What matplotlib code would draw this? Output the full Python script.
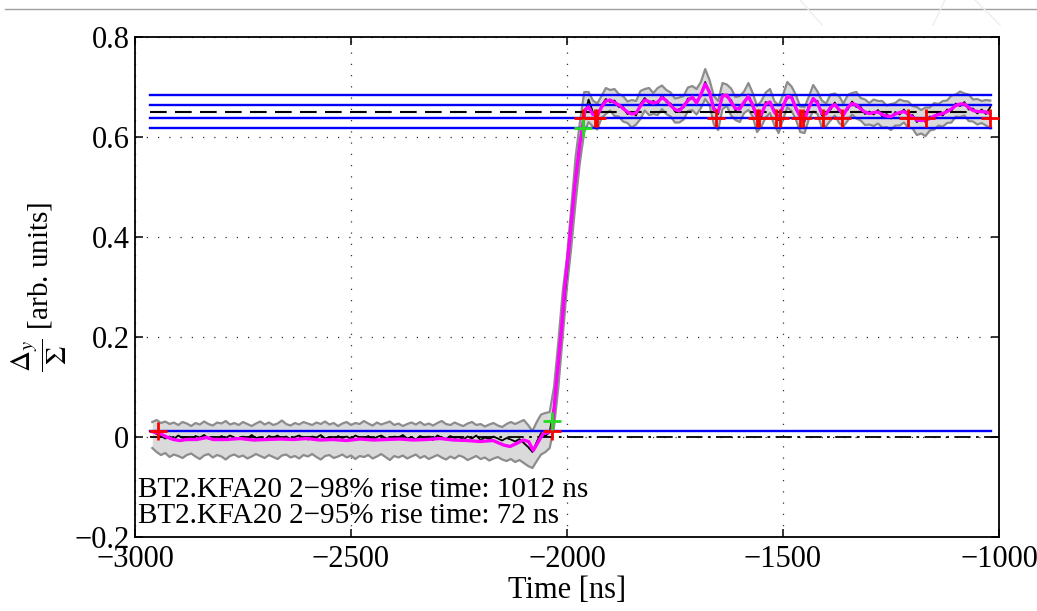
import numpy as np
import matplotlib
matplotlib.use("Agg")
import matplotlib.pyplot as plt
from matplotlib.lines import Line2D

plt.rcParams['font.family'] = ['Liberation Serif', 'DejaVu Serif']
plt.rcParams['mathtext.fontset'] = 'stix'

# ---- data ----
# smoothed signal (magenta), irregular sampling
mag_t = [-2961, -2942, -2927, -2911, -2896, -2880, -2857, -2834, -2819, -2788,
         -2757, -2726, -2695, -2664, -2633, -2603, -2572, -2541, -2510, -2479,
         -2448, -2417, -2387, -2356, -2325, -2294, -2263, -2232, -2201, -2171,
         -2147, -2132, -2117, -2101, -2089, -2078, -2066, -2055, -2043, -2035,
         -2030, -2024, -2012, -2005, -1993, -1982, -1970, -1964, -1958,
         -1950, -1940, -1930, -1920, -1910, -1900, -1890, -1880, -1870, -1860,
         -1850, -1840, -1830, -1820, -1810, -1800, -1790, -1780, -1770, -1760,
         -1750, -1740, -1730, -1720, -1710, -1700, -1690, -1680, -1670, -1660,
         -1650, -1640, -1630, -1620, -1610, -1600, -1590, -1580, -1570, -1560,
         -1550, -1540, -1530, -1520, -1510, -1500, -1490, -1480, -1470, -1460,
         -1450, -1440, -1430, -1420, -1410, -1400, -1390, -1380, -1370, -1360,
         -1350, -1340, -1330, -1320, -1310, -1300, -1290, -1280, -1270, -1260,
         -1250, -1240, -1230, -1220, -1210, -1200, -1190, -1180, -1170, -1160,
         -1150, -1140, -1130, -1120, -1110, -1100, -1090, -1080, -1070, -1060,
         -1050, -1040, -1030, -1020]
mag_v = [0.011, 0.007, 0.000, -0.005, -0.007, -0.005, -0.005, -0.001, -0.005, -0.005,
         -0.003, -0.006, -0.005, -0.004, -0.005, -0.003, -0.006, -0.005, -0.007, -0.004,
         -0.006, -0.005, -0.004, -0.006, -0.005, -0.003, -0.006, -0.007, -0.009, -0.007,
         -0.016, -0.019, -0.013, -0.006, -0.009, -0.027, -0.009, 0.007, 0.009, 0.014,
         0.055, 0.114, 0.221, 0.301, 0.401, 0.501, 0.587, 0.621, 0.655,
         0.660, 0.645, 0.642, 0.660, 0.672, 0.674, 0.669, 0.664, 0.657, 0.650,
         0.646, 0.648, 0.662, 0.674, 0.671, 0.668, 0.670, 0.679, 0.673, 0.663,
         0.655, 0.652, 0.662, 0.673, 0.680, 0.668, 0.685, 0.706, 0.690, 0.655,
         0.650, 0.682, 0.684, 0.670, 0.657, 0.656, 0.670, 0.681, 0.664, 0.640,
         0.645, 0.666, 0.670, 0.650, 0.638, 0.661, 0.681, 0.679, 0.658, 0.640,
         0.635, 0.659, 0.677, 0.668, 0.647, 0.646, 0.659, 0.665, 0.655, 0.644,
         0.659, 0.667, 0.664, 0.656, 0.650, 0.647, 0.649, 0.650, 0.645, 0.642,
         0.641, 0.646, 0.649, 0.651, 0.646, 0.640, 0.634, 0.633, 0.634, 0.637,
         0.642, 0.645, 0.647, 0.651, 0.656, 0.663, 0.666, 0.666, 0.659, 0.653,
         0.651, 0.651, 0.650, 0.647]

# raw signal and spread band, sampled every 10 ns from -2960 to -1020
raw_t = np.arange(-2960, -1019, 10)
raw_v = [0.012, 0.006, 0.002, -0.003, 0.001, -0.004, 0.003, -0.002, 0.000, -0.005,
         0.002, -0.001, 0.004, -0.003, 0.000, -0.006, 0.002, -0.002, 0.003, -0.001,
         -0.004, 0.001, -0.003, 0.004, -0.002, 0.000, -0.005, 0.002, -0.001, 0.003,
         -0.003, 0.001, -0.004, 0.000, 0.003, -0.002, -0.005, 0.001, -0.001, 0.004,
         -0.003, 0.000, -0.006, 0.002, -0.002, 0.001, -0.004, 0.003, -0.001, -0.003,
         0.002, -0.005, 0.000, 0.003, -0.002, -0.004, 0.001, -0.001, 0.004, -0.003,
         0.000, -0.005, 0.002, -0.002, 0.001, -0.006, 0.003, -0.001, -0.004, 0.002,
         -0.002, 0.000, -0.005, 0.001, -0.003, 0.003, -0.006, -0.001, -0.004, 0.001,
         -0.003, -0.007, -0.002, -0.005, -0.009, -0.004, -0.012, -0.020, -0.030, -0.010,
         0.008, 0.002, 0.010,
         0.060, 0.150, 0.240, 0.330, 0.430, 0.520, 0.590, 0.640,
         0.675, 0.650, 0.638, 0.663, 0.676, 0.670, 0.673, 0.660, 0.660, 0.646,
         0.650, 0.643, 0.666, 0.678, 0.668, 0.672, 0.666, 0.684, 0.670, 0.667,
         0.651, 0.656, 0.659, 0.677, 0.677, 0.672, 0.682, 0.710, 0.686, 0.659,
         0.646, 0.686, 0.680, 0.674, 0.653, 0.660, 0.666, 0.685, 0.660, 0.644,
         0.641, 0.670, 0.666, 0.654, 0.634, 0.665, 0.677, 0.683, 0.654, 0.644,
         0.631, 0.663, 0.673, 0.672, 0.643, 0.650, 0.655, 0.669, 0.651, 0.648,
         0.655, 0.671, 0.660, 0.660, 0.646, 0.651, 0.645, 0.654, 0.641, 0.646,
         0.637, 0.650, 0.645, 0.655, 0.642, 0.644, 0.630, 0.637, 0.630, 0.641,
         0.638, 0.649, 0.643, 0.655, 0.652, 0.667, 0.662, 0.670, 0.655, 0.657,
         0.647, 0.655, 0.646, 0.660]
band_hi = [0.030, 0.034, 0.028, 0.031, 0.026, 0.029, 0.024, 0.030, 0.027, 0.022,
           0.028, 0.025, 0.031, 0.026, 0.023, 0.029, 0.027, 0.032, 0.025, 0.028,
           0.024, 0.030, 0.026, 0.022, 0.027, 0.031, 0.025, 0.029, 0.024, 0.027,
           0.033, 0.026, 0.023, 0.028, 0.025, 0.030, 0.027, 0.024, 0.029, 0.026,
           0.031, 0.025, 0.028, 0.022, 0.027, 0.030, 0.024, 0.028, 0.026, 0.032,
           0.027, 0.023, 0.029, 0.025, 0.028, 0.031, 0.024, 0.027, 0.022, 0.026,
           0.029, 0.025, 0.030, 0.024, 0.027, 0.023, 0.028, 0.032, 0.026, 0.024,
           0.029, 0.025, 0.022, 0.027, 0.030, 0.024, 0.026, 0.021, 0.025, 0.028,
           0.023, 0.020, 0.026, 0.030, 0.026, 0.030, 0.034, 0.024, 0.012, 0.030,
           0.045, 0.048, 0.050,
           0.100, 0.190, 0.290, 0.360, 0.460, 0.560, 0.630, 0.690,
           0.690, 0.673, 0.667, 0.682, 0.698, 0.694, 0.696, 0.686, 0.682, 0.671,
           0.674, 0.672, 0.692, 0.696, 0.698, 0.688, 0.698, 0.703, 0.694, 0.689,
           0.677, 0.679, 0.682, 0.699, 0.702, 0.696, 0.710, 0.736, 0.714, 0.682,
           0.672, 0.708, 0.705, 0.697, 0.680, 0.682, 0.691, 0.708, 0.688, 0.662,
           0.672, 0.689, 0.696, 0.672, 0.663, 0.684, 0.710, 0.701, 0.684, 0.661,
           0.660, 0.681, 0.704, 0.691, 0.673, 0.667, 0.685, 0.687, 0.682, 0.667,
           0.684, 0.688, 0.690, 0.678, 0.675, 0.668, 0.675, 0.672, 0.672, 0.663,
           0.666, 0.668, 0.675, 0.672, 0.671, 0.662, 0.660, 0.654, 0.659, 0.659,
           0.668, 0.666, 0.672, 0.673, 0.683, 0.685, 0.691, 0.687, 0.685, 0.675,
           0.676, 0.672, 0.674, 0.673]
band_lo = [-0.022, -0.030, -0.036, -0.032, -0.040, -0.035, -0.038, -0.042, -0.036, -0.033,
           -0.039, -0.044, -0.037, -0.034, -0.041, -0.036, -0.039, -0.045, -0.038, -0.035,
           -0.040, -0.037, -0.043, -0.039, -0.034, -0.038, -0.042, -0.036, -0.040, -0.044,
           -0.037, -0.035, -0.041, -0.038, -0.043, -0.036, -0.039, -0.034, -0.040, -0.045,
           -0.038, -0.036, -0.042, -0.039, -0.035, -0.041, -0.037, -0.044, -0.038, -0.040,
           -0.036, -0.043, -0.039, -0.034, -0.040, -0.046, -0.038, -0.041, -0.037, -0.043,
           -0.039, -0.035, -0.042, -0.038, -0.044, -0.040, -0.036, -0.041, -0.045, -0.039,
           -0.043, -0.037, -0.040, -0.046, -0.042, -0.038, -0.044, -0.041, -0.047, -0.043,
           -0.040, -0.045, -0.048, -0.044, -0.050, -0.046, -0.052, -0.058, -0.062, -0.048,
           -0.035, -0.030, -0.022,
           0.020, 0.100, 0.200, 0.300, 0.380, 0.470, 0.550, 0.610,
           0.630, 0.621, 0.615, 0.638, 0.646, 0.653, 0.642, 0.641, 0.631, 0.628,
           0.619, 0.625, 0.636, 0.653, 0.644, 0.646, 0.644, 0.656, 0.646, 0.641,
           0.629, 0.629, 0.635, 0.652, 0.654, 0.645, 0.658, 0.676, 0.664, 0.625,
           0.614, 0.656, 0.662, 0.643, 0.634, 0.630, 0.648, 0.654, 0.641, 0.610,
           0.621, 0.639, 0.648, 0.624, 0.608, 0.635, 0.659, 0.652, 0.635, 0.610,
           0.608, 0.636, 0.651, 0.646, 0.619, 0.622, 0.633, 0.643, 0.628, 0.621,
           0.633, 0.645, 0.637, 0.633, 0.624, 0.625, 0.622, 0.627, 0.619, 0.620,
           0.614, 0.623, 0.623, 0.629, 0.619, 0.617, 0.604, 0.607, 0.602, 0.613,
           0.615, 0.623, 0.621, 0.628, 0.629, 0.641, 0.640, 0.643, 0.632, 0.631,
           0.625, 0.628, 0.623, 0.617]

# reference levels
flat_level = 0.651
level_frac = [0.95, 0.98, 1.02, 1.05]
low_frac = 0.02
line_start, line_end = -2965, -1018

# crossing markers
red_t = [-2947, -2035, -1962, -1935, -1931, -1654, -1561, -1555, -1515, -1507,
         -1461, -1453, -1407, -1364, -1210, -1168, -1021]
red_v = [0.013, 0.013] + [0.638] * 15
green_t = [-2034, -1963]
green_v = [0.033, 0.619]

lines_txt = ["BT2.KFA20 2\u221298% rise time: 1012 ns",
             "BT2.KFA20 2\u221295% rise time: 72 ns"]

# ---- plot ----
fig = plt.figure(figsize=(10.37, 6.11), dpi=100)
ax = fig.add_axes([0.1302, 0.1211, 0.8331, 0.8183])

ax.fill_between(raw_t, band_lo, band_hi, color='#dadada', lw=0, zorder=1)
ax.plot(raw_t, band_hi, color='#8c8c8c', lw=1.6, zorder=2)
ax.plot(raw_t, band_lo, color='#8c8c8c', lw=1.6, zorder=2)
ax.plot(raw_t, raw_v, color='black', lw=1.3, zorder=3)

for f in level_frac:
    ax.plot([line_start, line_end], [flat_level * f] * 2, color='#0000ff', lw=1.7, zorder=4)
ax.plot([line_start, line_end], [flat_level * low_frac] * 2, color='#0000ff', lw=1.7, zorder=4)
ax.plot([line_start, line_end], [flat_level] * 2, color='black', lw=1.5,
        dashes=(8, 4), zorder=4)
ax.plot([line_start, -1000], [0, 0], color='black', lw=1.3,
        dashes=(9, 3, 1.5, 3), zorder=4)

ax.plot(mag_t, mag_v, color='#ff00ff', lw=2.4, zorder=5,
        solid_joinstyle='round', solid_capstyle='round')

ax.plot(red_t, red_v, ls='none', marker='+', ms=13, mew=2.0, color='red', zorder=6)
ax.plot(green_t, green_v, ls='none', marker='+', ms=13, mew=2.0, color='#22dd22', zorder=6)

ax.set_xlim(-3000, -1000)
ax.set_ylim(-0.2, 0.8)
ax.set_xticks(np.arange(-3000, -999, 500))
ax.set_yticks([-0.2, 0, 0.2, 0.4, 0.6, 0.8])
ax.set_yticklabels(['\u22120.2', '0', '0.2', '0.4', '0.6', '0.8'])
ax.set_xticklabels(['\u22123000', '\u22122500', '\u22122000', '\u22121500', '\u22121000'])
ax.tick_params(direction='in', top=True, right=True, length=6, width=1.1,
               labelsize=22, pad=4)
ax.tick_params(axis='x', pad=6)
for s in ax.spines.values():
    s.set_linewidth(1.3)

ax.grid(True, color='black', lw=0.9, dashes=(1, 8), alpha=0.8)
ax.set_axisbelow(True)

ax.set_xlabel('Time [ns]', fontsize=22, labelpad=1)
ax.set_ylabel(r'$\dfrac{\Delta_y}{\Sigma}$ [arb. units]', fontsize=21, labelpad=4)

ax.text(-2993, -0.120, lines_txt[0], fontsize=21, va='baseline', ha='left', zorder=7)
ax.text(-2993, -0.172, lines_txt[1], fontsize=21, va='baseline', ha='left', zorder=7)

# page artefacts from the source document
fig.add_artist(Line2D([0.005, 1.0], [1 - 9.3 / 611] * 2, color='#a0a0a0', lw=1.0))
fig.add_artist(Line2D([800 / 1037, 822 / 1037], [1.0, 1 - 25 / 611], color='#eeeeee', lw=1.0))
fig.add_artist(Line2D([933 / 1037, 945 / 1037], [1 - 25 / 611, 1.0], color='#eeeeee', lw=1.0))
fig.add_artist(Line2D([975 / 1037, 1000 / 1037], [1.0, 1 - 25 / 611], color='#eeeeee', lw=1.0))

fig.savefig('out.png', dpi=100)
